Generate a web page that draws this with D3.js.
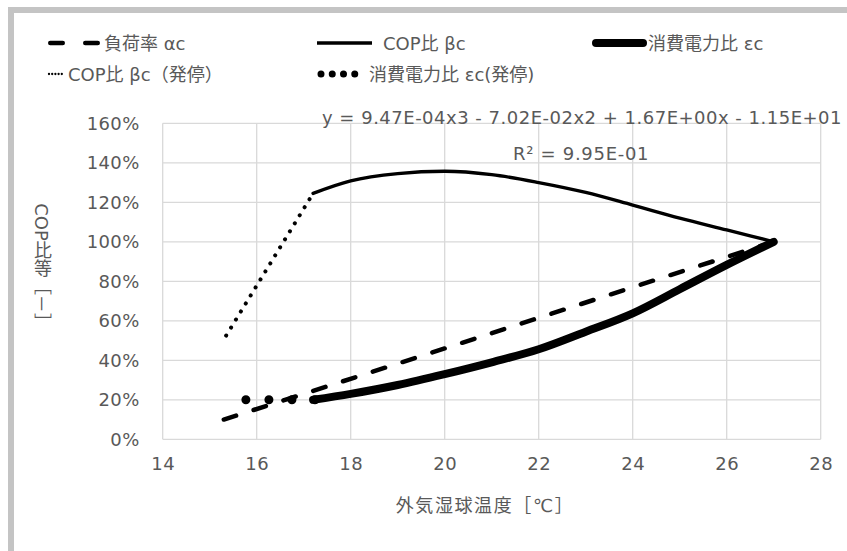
<!DOCTYPE html>
<html><head><meta charset="utf-8">
<script src="https://cdn.jsdelivr.net/npm/d3@7"></script>
<style>
html,body{margin:0;padding:0;background:#fff;}
svg text{font-family:"DejaVu Sans","Noto Sans CJK JP",sans-serif;fill:#595959;}
</style></head>
<body>
<svg id="c" width="847" height="551"></svg>
<script>
// ---- data ----
const xTicks = [14,16,18,20,22,24,26,28];
const yTicks = [0,0.2,0.4,0.6,0.8,1.0,1.2,1.4,1.6];

const loadX = [15.3, 17.2, 20, 22, 24, 27];
const loadY = [0.10, 0.245, 0.46, 0.615, 0.77, 1.00];

const copX = [17.2, 18, 19, 20, 21, 22, 23, 24, 25, 26, 27];
const copY = [1.245, 1.308, 1.345, 1.357, 1.34, 1.30, 1.25, 1.186, 1.12, 1.06, 1.00];

const powX = [17.2, 18, 19, 20, 21, 22, 23, 24, 25, 26, 27];
const powY = [0.20, 0.23, 0.275, 0.33, 0.39, 0.456, 0.545, 0.638, 0.76, 0.883, 1.00];

const copStopX = [15.35, 17.2];
const copStopY = [0.525, 1.245];

const powStopX = [15.77, 17.24];
const powStopY = [0.20, 0.20];

const legendLabels = ["負荷率 αc","COP比 βc","消費電力比 εc","COP比 βc（発停）","消費電力比 εc(発停)"];
const eqText = "y = 9.47E-04x3 - 7.02E-02x2 + 1.67E+00x - 1.15E+01";
const r2Text = "R² = 9.95E-01";
const yTitle = "COP比等［－］";
const xTitle = "外気湿球温度［℃］";

// ---- drawing ----
const svg = d3.select("#c");
const x = d3.scaleLinear().domain([14,28]).range([162.7,820.7]);
const y = d3.scaleLinear().domain([0,1.6]).range([439.3,123.3]);

// outer frame
svg.append("rect").attr("x",11).attr("y",10).attr("width",860).attr("height",560)
  .attr("fill","none").attr("stroke","#c4c4c4").attr("stroke-width",6);

// grid
svg.append("g").selectAll("line").data(xTicks).join("line")
  .attr("x1",d=>x(d)).attr("x2",d=>x(d)).attr("y1",y(1.6)).attr("y2",y(0))
  .attr("stroke","#d9d9d9").attr("stroke-width",1.3);
svg.append("g").selectAll("line").data(yTicks).join("line")
  .attr("x1",x(14)).attr("x2",x(28)).attr("y1",d=>y(d)).attr("y2",d=>y(d))
  .attr("stroke","#d9d9d9").attr("stroke-width",1.3);

// axes labels via d3 axes
const xa = svg.append("g").attr("transform",`translate(0,${y(0)})`)
  .call(d3.axisBottom(x).tickValues(xTicks).tickSize(0).tickPadding(18).tickFormat(d3.format("d")));
xa.select(".domain").remove();
xa.selectAll("text").attr("font-size",18).style("font-family","DejaVu Sans").attr("fill","#595959").attr("letter-spacing",0.4);
const ya = svg.append("g").attr("transform",`translate(${x(14)},0)`)
  .call(d3.axisLeft(y).tickValues(yTicks).tickSize(0).tickPadding(23).tickFormat(d3.format(".0%")));
ya.select(".domain").remove();
ya.selectAll("text").attr("font-size",18).style("font-family","DejaVu Sans").attr("fill","#595959").attr("letter-spacing",0.4);

// titles
svg.append("text").attr("x",485).attr("y",505).attr("text-anchor","middle")
  .attr("dominant-baseline","central").attr("font-size",18).attr("letter-spacing",1.6).text(xTitle);
svg.append("text").attr("x",41.5).attr("y",267).attr("text-anchor","middle")
  .style("writing-mode","vertical-rl").attr("font-size",18).text(yTitle);

// series
const line = d3.line().x(d=>x(d[0])).y(d=>y(d[1]));
const smooth = d3.line().x(d=>x(d[0])).y(d=>y(d[1])).curve(d3.curveMonotoneX);
const zip = (a,b)=>a.map((v,i)=>[v,b[i]]);

svg.append("path").attr("d",line(zip(copStopX,copStopY))).attr("fill","none")
  .attr("stroke","#000").attr("stroke-width",4).attr("stroke-linecap","round")
  .attr("stroke-dasharray","0.1 9.3");
svg.append("path").attr("d",smooth(zip(copX,copY))).attr("fill","none")
  .attr("stroke","#000").attr("stroke-width",3.4).attr("stroke-linecap","round").attr("stroke-linejoin","round");
svg.append("path").attr("d",smooth(zip(powX,powY))).attr("fill","none")
  .attr("stroke","#000").attr("stroke-width",8).attr("stroke-linecap","round").attr("stroke-linejoin","round");
svg.append("path").attr("d",line(zip(loadX,loadY))).attr("fill","none")
  .attr("stroke","#000").attr("stroke-width",4.5).attr("stroke-linecap","round")
  .attr("stroke-dasharray","12.9 18.4");
svg.append("path").attr("d",line(zip(powStopX,powStopY))).attr("fill","none")
  .attr("stroke","#000").attr("stroke-width",9).attr("stroke-linecap","round")
  .attr("stroke-dasharray","0 23.03");

// trendline labels
svg.append("text").attr("x",322).attr("y",117).attr("dominant-baseline","central")
  .attr("font-size",18).attr("letter-spacing",0.5).text(eqText);
svg.append("text").attr("x",513).attr("y",153).attr("dominant-baseline","central")
  .attr("font-size",18).attr("letter-spacing",0.7).text(r2Text);

// legend
const lg = svg.append("g");
const row1 = 43, row2 = 74;
lg.append("line").attr("x1",50.25).attr("x2",97.75).attr("y1",row1).attr("y2",row1)
  .attr("stroke","#000").attr("stroke-width",4.5).attr("stroke-linecap","round").attr("stroke-dasharray","12.5 22.5");
lg.append("text").attr("x",104).attr("y",row1).attr("dominant-baseline","central").attr("font-size",18).text(legendLabels[0]);
lg.append("line").attr("x1",317).attr("x2",372).attr("y1",row1).attr("y2",row1)
  .attr("stroke","#000").attr("stroke-width",3.6);
lg.append("text").attr("x",383).attr("y",row1).attr("dominant-baseline","central").attr("font-size",18).text(legendLabels[1]);
lg.append("line").attr("x1",596).attr("x2",643).attr("y1",row1).attr("y2",row1)
  .attr("stroke","#000").attr("stroke-width",8).attr("stroke-linecap","round");
lg.append("text").attr("x",648).attr("y",row1).attr("dominant-baseline","central").attr("font-size",18).text(legendLabels[2]);
lg.append("line").attr("x1",49).attr("x2",65).attr("y1",row2).attr("y2",row2)
  .attr("stroke","#000").attr("stroke-width",2.3).attr("stroke-linecap","round").attr("stroke-dasharray","0 3.2");
lg.append("text").attr("x",68).attr("y",row2).attr("dominant-baseline","central").attr("font-size",18).text(legendLabels[3]);
lg.append("line").attr("x1",321).attr("x2",366).attr("y1",row2).attr("y2",row2)
  .attr("stroke","#000").attr("stroke-width",7).attr("stroke-linecap","round").attr("stroke-dasharray","0 11.25");
lg.append("text").attr("x",369).attr("y",row2).attr("dominant-baseline","central").attr("font-size",18).text(legendLabels[4]);
</script>
</body></html>
